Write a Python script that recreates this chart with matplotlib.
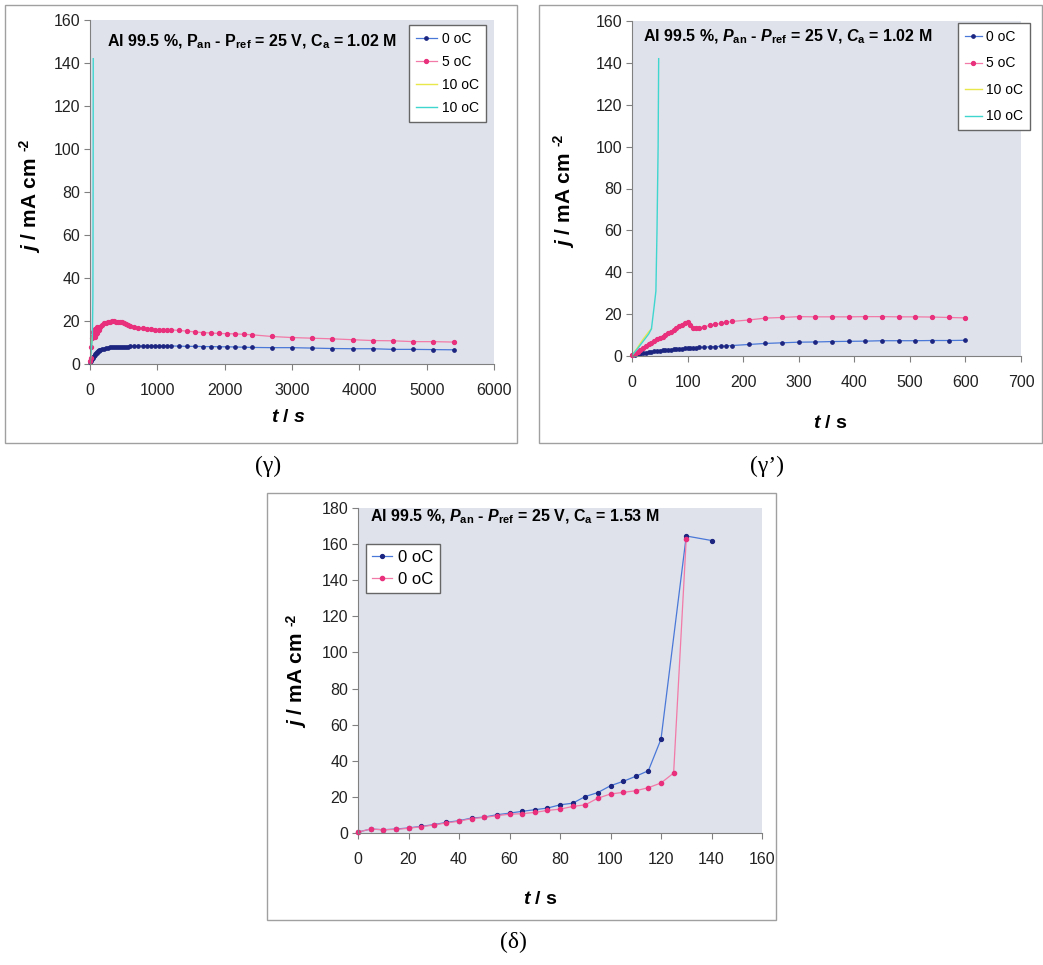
import matplotlib
matplotlib.use("Agg")
import matplotlib.pyplot as plt
from matplotlib.patches import Rectangle

plt.rcParams['font.family'] = ['Liberation Sans', 'DejaVu Sans']
plt.rcParams['mathtext.fontset'] = 'custom'
plt.rcParams['mathtext.rm'] = 'Liberation Sans:bold'
plt.rcParams['mathtext.it'] = 'Liberation Sans:italic:bold'
plt.rcParams['mathtext.bf'] = 'Liberation Sans:bold'

# --- (gamma) long run, 1.02 M ---
g_t = [0, 10, 20, 30, 40, 50, 60, 70, 80, 90, 100, 110, 120, 130, 140, 150,
       180, 210, 240, 270, 300, 330, 360, 390, 420, 450, 480, 510, 540, 570, 600,
       660, 720, 780, 840, 900, 960, 1020, 1080, 1140, 1200,
       1320, 1440, 1560, 1680, 1800, 1920, 2040, 2160, 2280, 2400,
       2700, 3000, 3300, 3600, 3900, 4200, 4500, 4800, 5100, 5400]
g_0C = [1.0, 1.5, 2.0, 2.5, 3.0, 3.4, 3.8, 4.2, 4.6, 5.0, 5.3, 5.6, 5.9, 6.1, 6.3, 6.5,
        6.9, 7.2, 7.4, 7.6, 7.7, 7.8, 7.9, 8.0, 8.0, 8.0, 8.0, 8.1, 8.1, 8.1, 8.2,
        8.3, 8.4, 8.4, 8.4, 8.4, 8.4, 8.4, 8.4, 8.4, 8.4,
        8.3, 8.2, 8.2, 8.1, 8.1, 8.0, 8.0, 7.9, 7.8, 7.7,
        7.6, 7.6, 7.4, 7.2, 7.1, 7.1, 6.8, 6.8, 6.7, 6.6]
g_5C = [1.5, 3.0, 8.0, 12.0, 15.0, 13.0, 16.0, 12.5, 16.5, 14.0, 17.0, 14.5, 16.5, 16.0, 17.0, 17.2,
        18.2, 18.9, 19.3, 19.6, 19.7, 19.8, 19.8, 19.7, 19.7, 19.6, 19.4, 19.1, 18.7, 18.3, 17.9,
        17.3, 16.9, 16.6, 16.3, 16.1, 16.0, 15.9, 15.9, 15.9, 15.9,
        15.6, 15.3, 14.9, 14.6, 14.4, 14.2, 14.1, 14.0, 13.8, 13.6,
        12.8, 12.3, 12.0, 11.7, 11.3, 10.9, 10.8, 10.4, 10.4, 10.2]

# --- (gamma') first 600 s ---
gp_t = [0, 5, 10, 15, 20, 25, 30, 35, 40, 45, 50, 55, 60, 65, 70, 75, 80, 85, 90, 95,
        100, 105, 110, 115, 120, 130, 140, 150, 160, 170, 180,
        210, 240, 270, 300, 330, 360, 390, 420, 450, 480, 510, 540, 570, 600]
gp_0C = [0.3, 0.5, 0.8, 1.0, 1.3, 1.6, 1.9, 2.1, 2.3, 2.5, 2.6, 2.8, 2.9, 3.0, 3.1, 3.2, 3.3, 3.4, 3.5, 3.6,
         3.7, 3.8, 3.9, 4.0, 4.1, 4.2, 4.4, 4.5, 4.6, 4.8, 5.0,
         5.5, 6.0, 6.3, 6.6, 6.7, 6.9, 7.0, 7.1, 7.3, 7.3, 7.3, 7.4, 7.4, 7.5]
gp_5C = [0.3, 1.0, 1.8, 2.8, 3.8, 4.8, 5.6, 6.4, 7.2, 8.0, 8.6, 9.3, 10.0, 10.8, 11.6, 12.5, 13.4, 14.2, 15.0, 15.8,
         16.2, 14.6, 13.6, 13.2, 13.4, 14.0, 14.6, 15.1, 15.6, 16.1, 16.5,
         17.2, 18.1, 18.4, 18.8, 18.7, 18.7, 18.7, 18.8, 18.8, 18.7, 18.7, 18.6, 18.4, 18.2]

# 10 oC runs (shared by both gamma panels)
c10_t = [0, 10, 20, 30, 35, 40, 43, 45, 47, 48]
c10_j = [0.3, 3.5, 7.0, 10.5, 13.0, 24.0, 31.0, 60.0, 100.0, 142.0]
y10_t = [0, 10, 20, 30, 35]
y10_j = [0.3, 4.0, 8.0, 11.5, 13.0]

# --- (delta) 1.53 M ---
d_tA = [0, 5, 10, 15, 20, 25, 30, 35, 40, 45, 50, 55, 60, 65, 70, 75, 80, 85, 90, 95,
        100, 105, 110, 115, 120, 130, 140]
d_jA = [0.5, 2.2, 1.8, 2.2, 2.8, 3.7, 4.6, 5.9, 6.8, 8.3, 8.8, 10.1, 11.0, 12.0, 12.9, 13.8, 15.6, 16.5, 20.2, 22.4,
        26.2, 28.6, 31.4, 34.5, 52.0, 164.5, 162.0]
d_tB = [0, 5, 10, 15, 20, 25, 30, 35, 40, 45, 50, 55, 60, 65, 70, 75, 80, 85, 90, 95,
        100, 105, 110, 115, 120, 125, 130]
d_jB = [0.5, 2.2, 1.8, 2.0, 2.6, 3.5, 4.4, 5.6, 6.5, 8.0, 8.6, 9.6, 10.4, 10.7, 11.4, 12.5, 13.2, 14.7, 15.6, 19.3,
        21.6, 22.5, 23.4, 25.1, 27.7, 33.2, 163.0]

BLUE_LINE, BLUE_MK = '#4a78d8', '#1c2580'
PINK_LINE, PINK_MK = '#f27aa8', '#e8307c'
CYAN, YELLOW = '#3fd6d0', '#e8e84a'
PLOT_BG = '#dfe2ea'
GRAY = '#808080'

W, H = 1043, 965
fig = plt.figure(figsize=(W / 100, H / 100), dpi=100)


def px_axes(x0, y0, x1, y1):
    return fig.add_axes([x0 / W, 1 - y1 / H, (x1 - x0) / W, (y1 - y0) / H])


def frame(x0, y0, x1, y1):
    fig.patches.append(Rectangle((x0 / W, 1 - y1 / H), (x1 - x0) / W, (y1 - y0) / H,
                                 transform=fig.transFigure, fill=False,
                                 edgecolor='#a0a0a0', lw=1.0))


def style(ax, xmax, xstep, ymax):
    ax.set_facecolor(PLOT_BG)
    for s in ['top', 'right']:
        ax.spines[s].set_visible(False)
    for s in ['left', 'bottom']:
        ax.spines[s].set_color(GRAY)
    ax.set_xlim(0, xmax)
    ax.set_ylim(0, ymax)
    ax.set_xticks(range(0, xmax + 1, xstep))
    ax.set_yticks(range(0, ymax + 1, 20))
    ax.tick_params(axis='both', direction='out', length=4, color=GRAY,
                   labelsize=11.5, labelcolor='#222222')
    ax.tick_params(axis='x', pad=10)
    ax.tick_params(axis='y', pad=3)


def series(ax, t, j, lc, mc, lab, ms=2.4):
    ax.plot(t, j, '-', color=lc, lw=0.9, marker='o', ms=ms,
            mfc=mc, mec=mc, label=lab, clip_on=False)


def ylabel(x, y):
    # j / mA cm, with the -2 raised on its own a little apart
    main = fig.text(x / W, 1 - y / H, r'$j$ / mA cm', rotation=90, fontsize=15,
                    fontweight='bold', ha='center', va='center')
    fig.canvas.draw()
    bb = main.get_window_extent()
    fig.text((bb.x0 - 1) / W, (bb.y1 + 6) / H, '-2', rotation=90, fontsize=10,
             fontweight='bold', ha='left', va='bottom')


# frames round each chart
frame(5, 5, 517, 443)
frame(539, 5, 1042, 443)
frame(267, 493, 776, 920)

# (gamma)
ax1 = px_axes(90, 20, 494, 364)
style(ax1, 6000, 1000, 160)
series(ax1, g_t, g_0C, BLUE_LINE, BLUE_MK, '0 oC')
series(ax1, g_t, g_5C, PINK_LINE, PINK_MK, '5 oC', ms=2.8)
ax1.plot(y10_t, y10_j, color=YELLOW, lw=1.0, label='10 oC')
ax1.plot(c10_t, c10_j, color=CYAN, lw=1.0, label='10 oC')
ax1.legend(loc='upper left', bbox_to_anchor=(409 / W, 1 - 25 / H), bbox_transform=fig.transFigure,
           fontsize=10, frameon=True, fancybox=False, edgecolor='#666666', framealpha=1,
           handlelength=1.5, handletextpad=0.4, labelspacing=0.65, borderpad=0.5,
           borderaxespad=0)
fig.text(107 / W, 1 - 42 / H, r'Al 99.5 %, P$_{\mathrm{an}}$ - P$_{\mathrm{ref}}$ = 25 V, C$_{\mathrm{a}}$ = 1.02 M',
         fontsize=11.5, fontweight='bold', va='center', ha='left')
ylabel(30, 205)
fig.text(288 / W, 1 - 418 / H, r'$t$ / $s$', fontsize=14, fontweight='bold', ha='center', va='center')

# (gamma')
ax2 = px_axes(632, 21, 1021, 356)
style(ax2, 700, 100, 160)
series(ax2, gp_t, gp_0C, BLUE_LINE, BLUE_MK, '0 oC')
series(ax2, gp_t, gp_5C, PINK_LINE, PINK_MK, '5 oC', ms=2.8)
ax2.plot(y10_t, y10_j, color=YELLOW, lw=1.0, label='10 oC')
ax2.plot(c10_t, c10_j, color=CYAN, lw=1.0, label='10 oC')
ax2.legend(loc='upper left', bbox_to_anchor=(958 / W, 1 - 23 / H), bbox_transform=fig.transFigure,
           fontsize=10, frameon=True, fancybox=False, edgecolor='#666666', framealpha=1,
           handlelength=1.2, handletextpad=0.3, labelspacing=0.9, borderpad=0.5,
           borderaxespad=0)
fig.text(643 / W, 1 - 37 / H, r'Al 99.5 %, $P_{\mathrm{an}}$ - $P_{\mathrm{ref}}$ = 25 V, $C_{\mathrm{a}}$ = 1.02 M',
         fontsize=11.5, fontweight='bold', va='center', ha='left')
ylabel(564, 200)
fig.text(830 / W, 1 - 424 / H, r'$t$ / s', fontsize=14, fontweight='bold', ha='center', va='center')

# (delta)
ax3 = px_axes(358, 508, 762, 833)
style(ax3, 160, 20, 180)
series(ax3, d_tA, d_jA, BLUE_LINE, BLUE_MK, '0 oC', ms=2.8)
series(ax3, d_tB, d_jB, PINK_LINE, PINK_MK, '0 oC', ms=3.0)
ax3.legend(loc='upper left', bbox_to_anchor=(366 / W, 1 - 544 / H), bbox_transform=fig.transFigure,
           fontsize=12, frameon=True, fancybox=False, edgecolor='#666666', framealpha=1,
           handlelength=1.2, handletextpad=0.4, labelspacing=0.45, borderpad=0.35,
           borderaxespad=0)
fig.text(370 / W, 1 - 517 / H, r'Al 99.5 %, $P_{\mathrm{an}}$ - $P_{\mathrm{ref}}$ = 25 V, C$_{\mathrm{a}}$ = 1.53 M',
         fontsize=11.5, fontweight='bold', va='center', ha='left')
ylabel(297, 680)
fig.text(540 / W, 1 - 900 / H, r'$t$ / s', fontsize=14, fontweight='bold', ha='center', va='center')

# captions under each chart
for cx, cy, cap in [(268, 466, '(γ)'), (767, 466, '(γ’)'), (513, 942, '(δ)')]:
    fig.text(cx / W, 1 - cy / H, cap, fontsize=17, family='Liberation Serif', ha='center', va='center')

fig.savefig('out.png', dpi=100)
